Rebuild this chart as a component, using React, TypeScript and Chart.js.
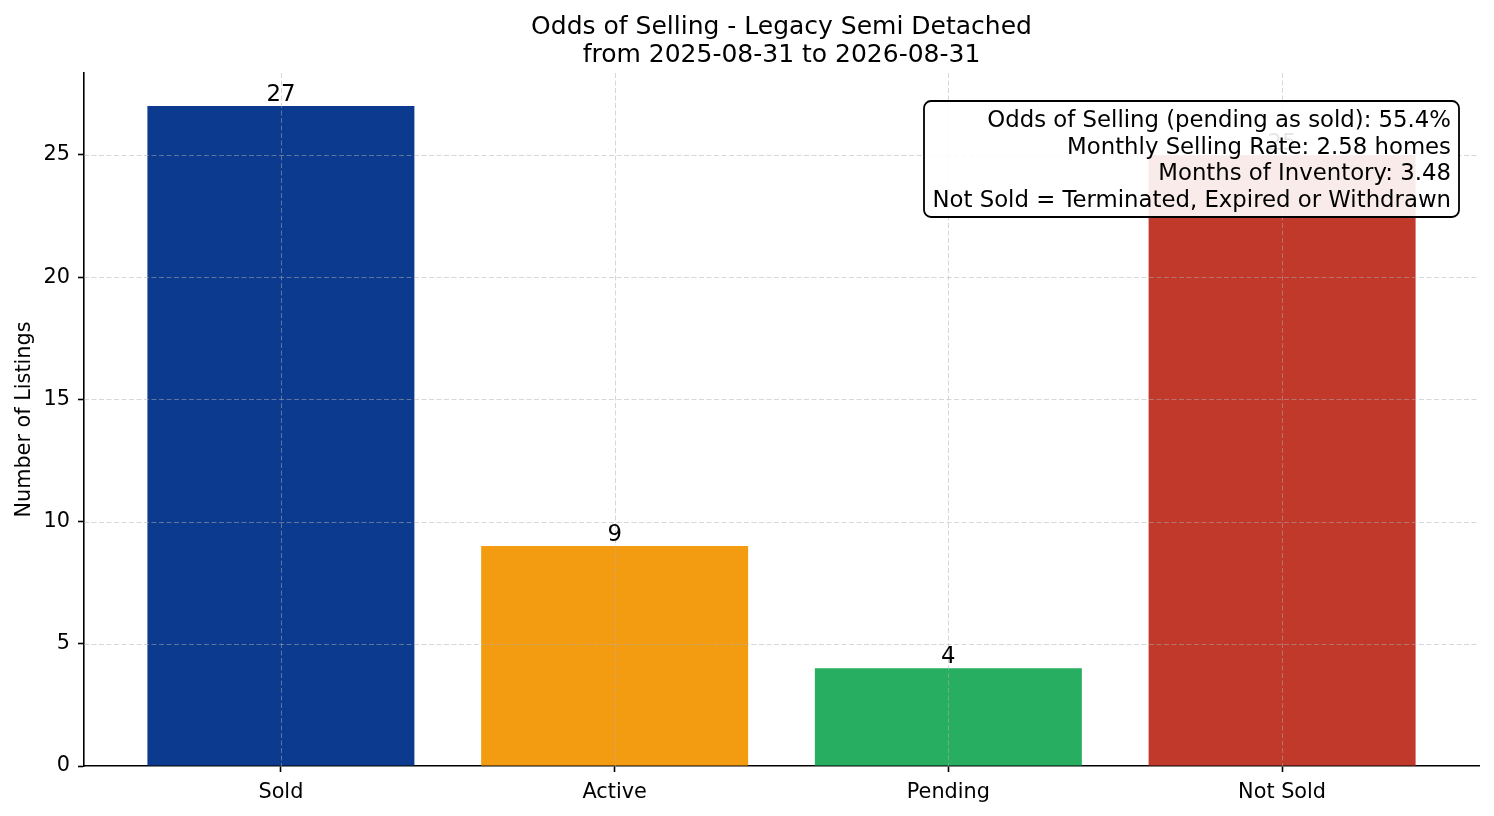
import { useEffect, useRef } from 'react'
import { Chart, registerables } from 'chart.js'
import type { Plugin } from 'chart.js'

Chart.register(...registerables)

const CATEGORIES = ['Sold', 'Active', 'Pending', 'Not Sold']
const COUNTS = [27, 9, 4, 25]
const BAR_COLORS = ['#0b3a8e', '#f39c12', '#27ae60', '#c0392b']
const Y_TICKS = [0, 5, 10, 15, 20, 25]
const TITLE_LINES = ['Odds of Selling - Legacy Semi Detached', 'from 2025-08-31 to 2026-08-31']
const INFO_LINES = [
  'Odds of Selling (pending as sold): 55.4%',
  'Monthly Selling Rate: 2.58 homes',
  'Months of Inventory: 3.48',
  'Not Sold = Terminated, Expired or Withdrawn',
]

const FONT = "'DejaVu Sans', sans-serif"

// dashed grid drawn over the bars, like matplotlib does
const gridOverBars: Plugin<'bar'> = {
  id: 'gridOverBars',
  afterDatasetsDraw(chart) {
    const { ctx, chartArea: a, scales } = chart
    ctx.save()
    ctx.strokeStyle = 'rgba(176,176,176,0.5)'
    ctx.lineWidth = 1
    ctx.setLineDash([5, 2.5])
    for (const v of Y_TICKS) {
      if (v === 0) continue
      const y = Math.round(scales.y.getPixelForValue(v)) + 0.5
      ctx.beginPath()
      ctx.moveTo(a.left, y)
      ctx.lineTo(a.right, y)
      ctx.stroke()
    }
    CATEGORIES.forEach((_, i) => {
      const x = Math.round(scales.x.getPixelForValue(i)) + 0.5
      ctx.beginPath()
      ctx.moveTo(x, a.top)
      ctx.lineTo(x, a.bottom)
      ctx.stroke()
    })
    ctx.restore()
  },
}

const annotations: Plugin<'bar'> = {
  id: 'annotations',
  afterDraw(chart) {
    const { ctx, chartArea: a } = chart
    ctx.save()
    ctx.fillStyle = '#000'

    // title
    const cx = (a.left + a.right) / 2
    ctx.font = `25px ${FONT}`
    ctx.textAlign = 'center'
    ctx.textBaseline = 'alphabetic'
    ctx.fillText(TITLE_LINES[0], cx, 34)
    ctx.fillText(TITLE_LINES[1], cx, 62)

    // bar values
    const meta = chart.getDatasetMeta(0)
    ctx.font = `22.8px ${FONT}`
    meta.data.forEach((bar, i) => {
      ctx.fillText(String(COUNTS[i]), bar.x, bar.y - 5)
    })

    // info box
    const bx = 924
    const by = 101
    const bw = 535
    const bh = 116
    ctx.beginPath()
    ctx.roundRect(bx, by, bw, bh, 7)
    ctx.fillStyle = 'rgba(255,255,255,0.9)'
    ctx.fill()
    ctx.lineWidth = 1.8
    ctx.strokeStyle = '#000'
    ctx.stroke()
    ctx.fillStyle = '#000'
    ctx.font = `22.8px ${FONT}`
    ctx.textAlign = 'right'
    INFO_LINES.forEach((line, i) => {
      ctx.fillText(line, bx + bw - 8, 127 + i * 26.6)
    })
    ctx.restore()
  },
}

export default function App() {
  const canvasRef = useRef<HTMLCanvasElement>(null)
  const chartRef = useRef<Chart<'bar'> | null>(null)

  useEffect(() => {
    if (!canvasRef.current) return

    chartRef.current = new Chart(canvasRef.current, {
      type: 'bar',
      data: {
        datasets: [
          {
            data: COUNTS.map((y, x) => ({ x, y })),
            backgroundColor: BAR_COLORS,
            borderWidth: 0,
            categoryPercentage: 1,
            barPercentage: 0.8,
          },
        ],
      },
      options: {
        animation: false,
        responsive: true,
        maintainAspectRatio: false,
        layout: { padding: { left: 0, right: 15, top: 73, bottom: 0 } },
        plugins: {
          legend: { display: false },
          tooltip: { enabled: false },
        },
        scales: {
          x: {
            type: 'linear',
            min: -0.59,
            max: 3.59,
            offset: false,
            z: 1,
            afterBuildTicks: (scale) => {
              scale.ticks = CATEGORIES.map((_, i) => ({ value: i }))
            },
            afterFit: (scale) => {
              scale.height = 50
            },
            ticks: {
              color: '#000',
              padding: 8,
              maxRotation: 0,
              autoSkip: false,
              font: { family: FONT, size: 20.8 },
              callback: (v) => CATEGORIES[Number(v)] ?? '',
            },
            grid: {
              offset: false,
              drawOnChartArea: false,
              drawTicks: true,
              tickLength: 6,
              tickColor: '#000',
              tickWidth: 1.6,
            },
            border: { display: true, color: '#000', width: 1.6 },
          },
          y: {
            min: 0,
            max: 28.35,
            z: 1,
            afterBuildTicks: (scale) => {
              scale.ticks = Y_TICKS.map((value) => ({ value }))
            },
            afterFit: (scale) => {
              scale.width = 84
            },
            ticks: {
              color: '#000',
              padding: 8,
              font: { family: FONT, size: 20.8 },
            },
            grid: {
              drawOnChartArea: false,
              drawTicks: true,
              tickLength: 6,
              tickColor: '#000',
              tickWidth: 1.6,
            },
            border: { display: true, color: '#000', width: 1.6 },
            title: {
              display: true,
              text: 'Number of Listings',
              color: '#000',
              padding: { top: 12, bottom: 0 },
              font: { family: FONT, size: 20.8 },
            },
          },
        },
      },
      plugins: [gridOverBars, annotations],
    })

    return () => {
      chartRef.current?.destroy()
      chartRef.current = null
    }
  }, [])

  return (
    <div style={{ position: 'absolute', left: 0, top: 0, width: 1494, height: 816, background: '#fff' }}>
      <canvas ref={canvasRef} />
    </div>
  )
}
